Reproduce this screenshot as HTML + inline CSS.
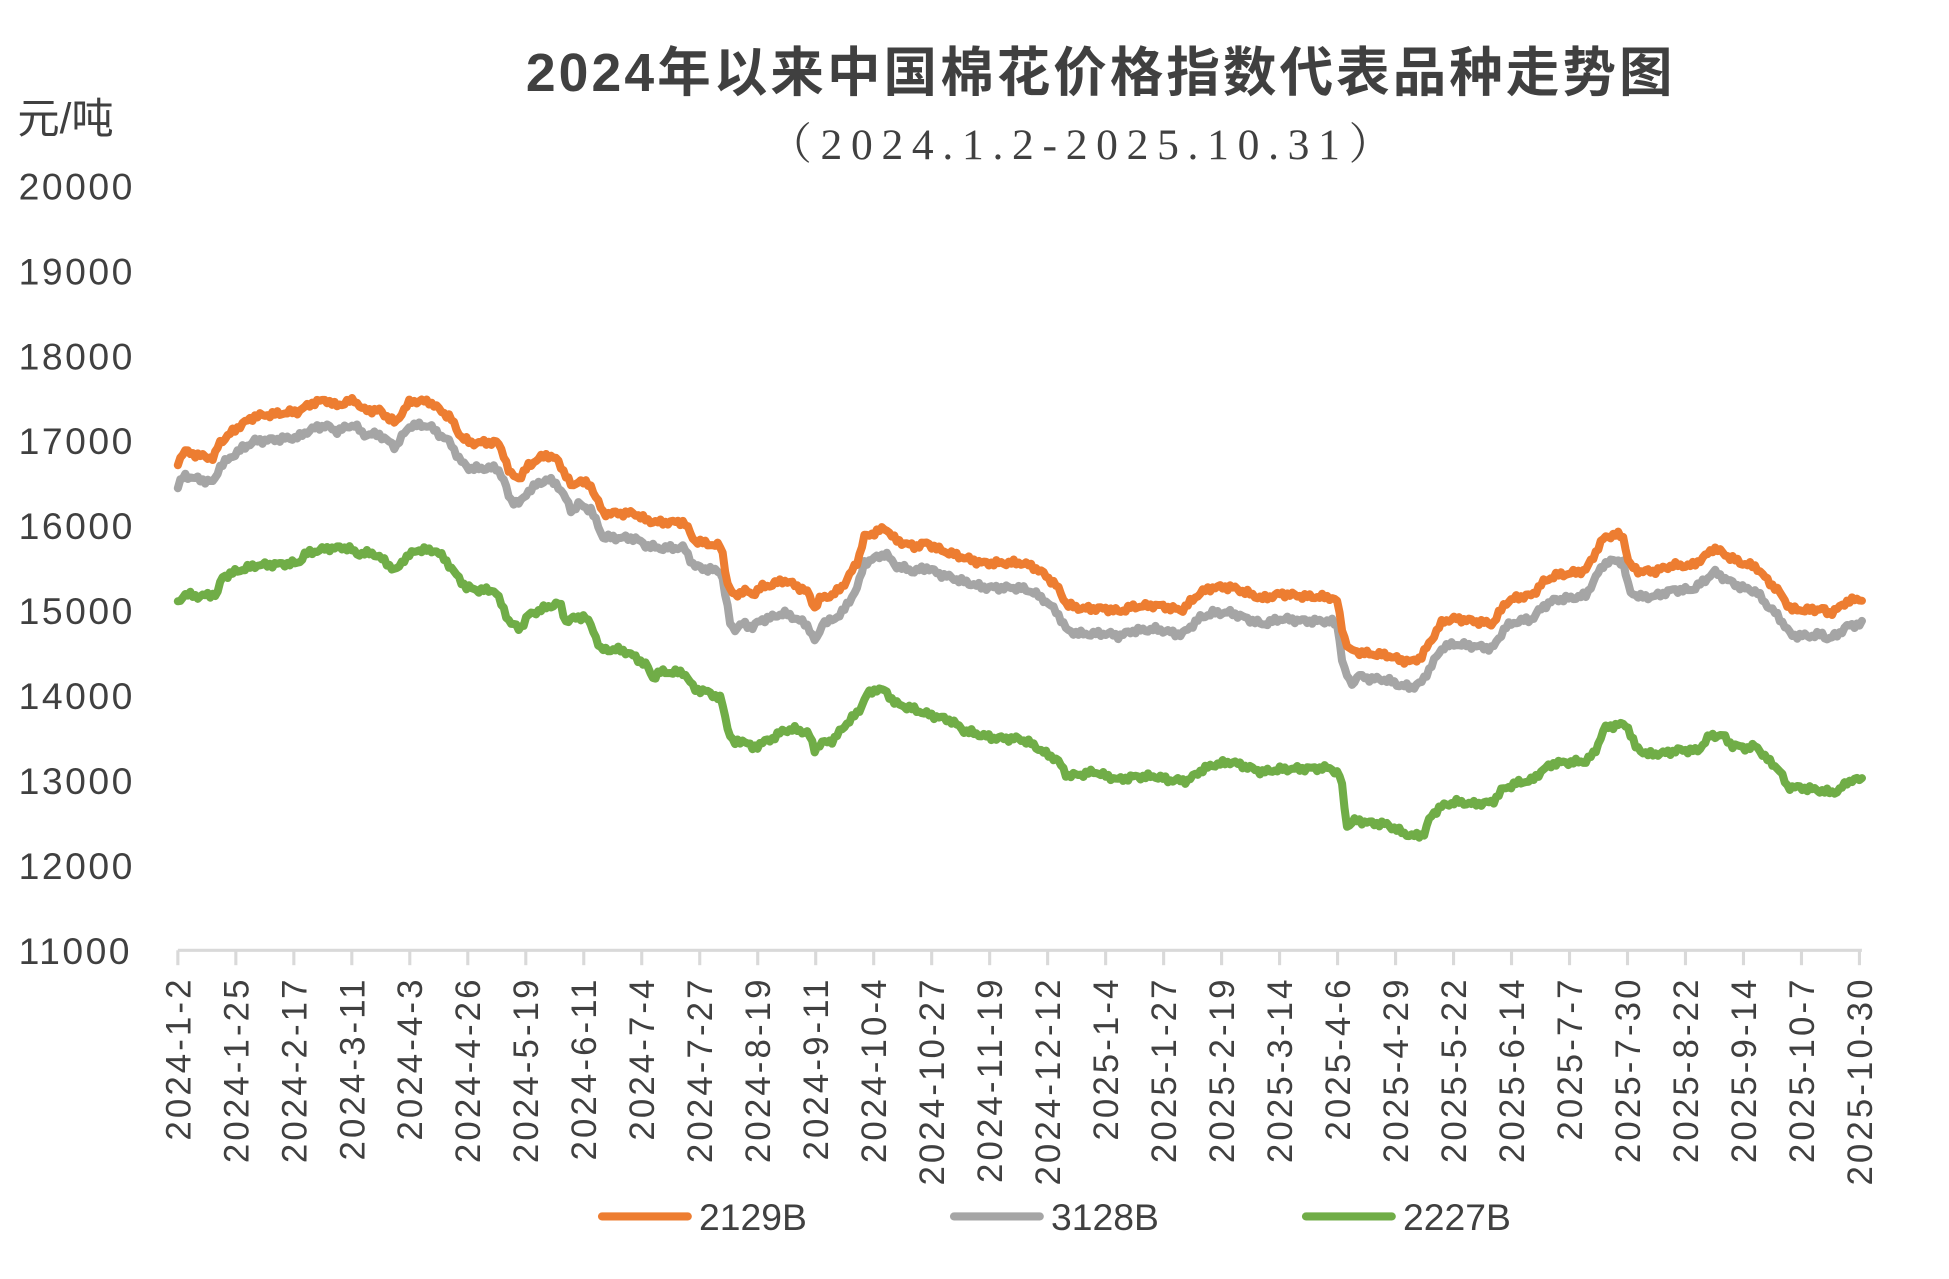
<!DOCTYPE html>
<html><head><meta charset="utf-8"><style>
html,body{margin:0;padding:0;background:#fff;}
svg{display:block;}
text{font-family:"Liberation Sans","Noto Sans CJK SC",sans-serif;fill:#404040;}
</style></head><body>
<svg id="s" width="1949" height="1279" viewBox="0 0 1567 1028.3" preserveAspectRatio="none" xmlns="http://www.w3.org/2000/svg">
<rect width="1567" height="1029" fill="#fff"/>
<text x="885" y="73" text-anchor="middle" font-size="43" font-weight="bold" letter-spacing="2.5" style="fill:#404040">2024年以来中国棉花价格指数代表品种走势图</text>
<text x="872" y="128" text-anchor="middle" font-size="35" letter-spacing="7" style="font-family:'Liberation Serif','Noto Serif CJK SC',serif;fill:#404040">（2024.1.2-2025.10.31）</text>
<text x="14" y="107" font-size="34">元/吨</text>
<g id="ylab" font-size="30" letter-spacing="2"></g>
<line x1="143" y1="764" x2="1497" y2="764" stroke="#d9d9d9" stroke-width="2.5"/>
<g id="xt"></g>
<g id="series" fill="none" stroke-width="6.5" stroke-linejoin="round" stroke-linecap="round"></g>
<g font-size="30">
<line x1="484" y1="978" x2="553" y2="978" stroke="#ED7D31" stroke-width="6.5" stroke-linecap="round"/>
<text x="562" y="989">2129B</text>
<line x1="767" y1="978" x2="836" y2="978" stroke="#A5A5A5" stroke-width="6.5" stroke-linecap="round"/>
<text x="845" y="989">3128B</text>
<line x1="1050" y1="978" x2="1119" y2="978" stroke="#70AD47" stroke-width="6.5" stroke-linecap="round"/>
<text x="1128" y="989">2227B</text>
</g>
</svg>
<script>
var NS="http://www.w3.org/2000/svg";
function el(t,a,txt){var e=document.createElementNS(NS,t);for(var k in a)e.setAttribute(k,a[k]);if(txt)e.textContent=txt;return e;}
var yl=document.getElementById('ylab');
for(var i=0;i<10;i++){var v=11000+i*1000;var y=764-i*68.3;yl.appendChild(el('text',{x:15,y:y+11},String(v)));}
var labs=["2024-1-2","2024-1-25","2024-2-17","2024-3-11","2024-4-3","2024-4-26","2024-5-19","2024-6-11","2024-7-4","2024-7-27","2024-8-19","2024-9-11","2024-10-4","2024-10-27","2024-11-19","2024-12-12","2025-1-4","2025-1-27","2025-2-19","2025-3-14","2025-4-6","2025-4-29","2025-5-22","2025-6-14","2025-7-7","2025-7-30","2025-8-22","2025-9-14","2025-10-7","2025-10-30"];
var xt=document.getElementById('xt');
for(var i=0;i<labs.length;i++){var x=143+i*(1495-143)/29;
xt.appendChild(el('line',{x1:x,y1:764,x2:x,y2:776,stroke:'#d9d9d9','stroke-width':2.5}));
xt.appendChild(el('text',{x:0,y:0,transform:'translate('+(x+10)+',785) rotate(-90)','text-anchor':'end','font-size':28,'letter-spacing':2.5},labs[i]));}
function P(s){return s.trim().split(/;\s*/).map(function(p){var a=p.split(',');return [+a[0],+a[1]];});}
var O=P("143,372;148,363;160,366;172,368;176,356;185,348;195,340;205,334;240,331;250,325;262,322;270,327;285,322;292,330;305,330;318,340;322,333;330,322;345,322;355,330;362,335;370,350;378,356;400,356;405,366;410,382;418,385;425,375;432,370;440,366;448,370;455,382;460,392;465,386;475,390;485,412;510,412;520,418;530,420;550,420;558,435;565,437;580,440;585,470;590,480;598,475;605,478;612,472;620,470;630,466;640,470;650,476;655,488;660,480;670,478;680,468;690,450;695,432;705,428;712,425;720,435;735,440;745,437;755,442;765,445;775,448;790,452;800,452;820,452;830,455;840,462;850,472;858,487;870,490;890,490;900,492;910,488;930,486;950,490;965,476;975,472;990,472;1000,476;1015,482;1030,478;1050,480;1070,480;1075,483;1080,510;1085,522;1100,525;1115,526;1125,530;1135,532;1143,528;1150,516;1160,500;1170,498;1185,500;1200,502;1205,494;1210,485;1220,480;1232,478;1240,468;1250,462;1265,460;1275,458;1285,440;1290,432;1300,430;1305,432;1310,455;1318,460;1330,460;1345,455;1360,455;1370,448;1378,440;1390,447;1400,452;1412,455;1420,465;1430,475;1440,490;1455,491;1465,490;1470,494;1478,490;1485,484;1497,482");
var G=P("143,485;148,478;160,480;175,478;178,465;190,460;205,455;240,452;245,445;255,442;265,440;280,440;287,445;300,445;310,452;318,460;325,450;335,443;350,443;358,450;365,460;375,472;385,474;398,474;403,485;410,500;418,505;425,494;440,488;450,485;455,500;460,498;470,496;476,505;483,523;500,523;510,528;520,535;525,545;530,540;550,540;558,553;570,556;580,562;585,585;590,598;598,595;605,602;612,598;620,595;630,588;640,587;650,590;655,603;660,598;670,595;680,582;690,572;697,558;705,553;712,555;720,565;735,570;745,574;755,577;765,580;775,588;790,592;800,594;820,594;830,598;840,605;850,610;858,623;870,622;880,620;890,624;900,627;910,625;930,625;940,628;955,628;965,620;975,615;990,612;1000,615;1015,620;1030,618;1050,618;1070,618;1078,625;1083,665;1090,660;1100,662;1115,663;1125,668;1135,672;1145,670;1150,656;1158,648;1170,644;1185,646;1200,645;1208,635;1220,630;1232,628;1240,620;1250,614;1265,613;1275,612;1282,605;1290,585;1300,582;1308,582;1315,600;1325,606;1340,605;1350,603;1365,604;1375,592;1385,592;1393,600;1405,602;1412,600;1420,610;1430,618;1437,632;1450,633;1460,634;1468,636;1478,636;1485,628;1497,626");
function interp(pts,x){for(var i=1;i<pts.length;i++){if(x<=pts[i][0]){var a=pts[i-1],b=pts[i];return a[1]+(b[1]-a[1])*(x-a[0])/(b[0]-a[0]);}}return pts[pts.length-1][1];}
function noise(x,s){return 1.6*Math.sin(x*1.37+s)+1.1*Math.sin(x*0.53+2*s)+0.7*Math.sin(x*3.1+s);}
function path(pts,off,s){var d="";for(var x=143;x<=1497;x+=2){var y=interp(pts,x)+off(x)+noise(x,s);d+=(x==143?"M":"L")+x+","+y.toFixed(1);}return d;}
var g=document.getElementById('series');
function grayOff(x){var o=20;if(x>585&&x<660)o=27;if(x>1078&&x<1090)o=26;return o;}
g.appendChild(el('path',{d:path(O,grayOff,1.3),stroke:'#A5A5A5'}));
g.appendChild(el('path',{d:path(O,function(){return 0;},0.2),stroke:'#ED7D31'}));
g.appendChild(el('path',{d:path(G,function(){return 0;},2.7),stroke:'#70AD47'}));
</script>
</body></html>
